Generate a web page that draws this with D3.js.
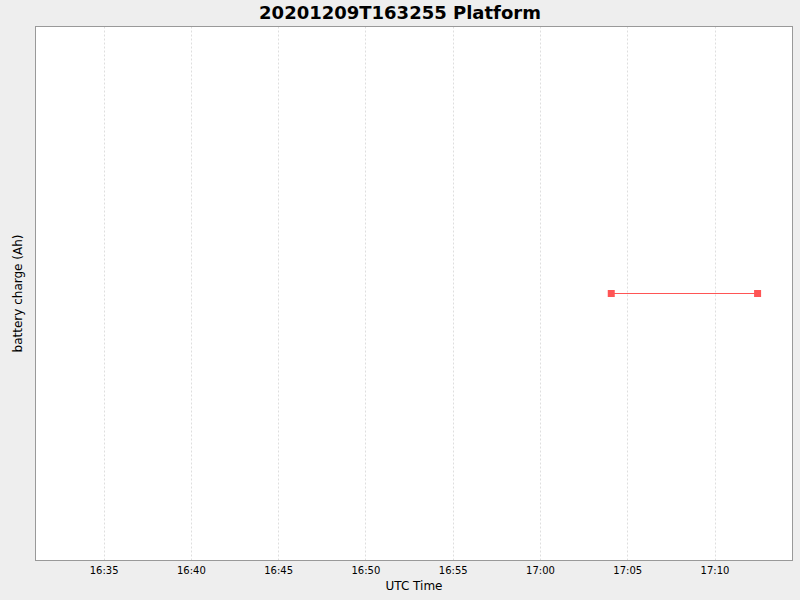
<!DOCTYPE html>
<html>
<head>
<meta charset="utf-8">
<script src="https://cdn.jsdelivr.net/npm/d3@7"></script>
<style>
  body { margin: 0; background: #eeeeee; }
  svg { display: block; font-family: "DejaVu Sans", sans-serif; }
</style>
</head>
<body>
<div id="chart"></div>
<script>
"use strict";
// data
const title = "20201209T163255 Platform";
const times = ["2020-12-09T17:04:05Z", "2020-12-09T17:12:28Z"];
const charge = [0, 0];
const xDomain = ["2020-12-09T16:31:06Z", "2020-12-09T17:14:28Z"];
const yDomain = [-1, 1];
const tickTimes = ["16:35", "16:40", "16:45", "16:50", "16:55", "17:00", "17:05", "17:10"];

const width = 800;
const height = 600;
const plot = { left: 35.5, top: 26.5, right: 792.5, bottom: 560.5 };

const svg = d3.select("#chart")
    .append("svg")
    .attr("width", width)
    .attr("height", height);

svg.append("rect")
    .attr("width", width)
    .attr("height", height)
    .attr("fill", "#eeeeee");

const xScale = d3.scaleUtc()
    .domain(xDomain.map(d => new Date(d)))
    .range([plot.left, plot.right]);
const yScale = d3.scaleLinear()
    .domain(yDomain)
    .range([plot.bottom, plot.top]);

svg.append("rect")
    .attr("x", plot.left)
    .attr("y", plot.top)
    .attr("width", plot.right - plot.left)
    .attr("height", plot.bottom - plot.top)
    .attr("fill", "#ffffff");

const ticks = tickTimes.map(t => new Date(`2020-12-09T${t}:00Z`));

// vertical dashed grid
svg.append("g")
    .selectAll("line")
    .data(ticks)
    .enter()
    .append("line")
    .attr("x1", d => Math.round(xScale(d)) + 0.5)
    .attr("x2", d => Math.round(xScale(d)) + 0.5)
    .attr("y1", plot.top)
    .attr("y2", plot.bottom)
    .attr("stroke", "#dedede")
    .attr("stroke-width", 1)
    .attr("stroke-dasharray", "2,2");

// x axis labels (no tick marks)
const xAxis = d3.axisBottom(xScale)
    .tickValues(ticks)
    .tickFormat(d3.utcFormat("%H:%M"))
    .tickSize(0)
    .tickPadding(6);
const gx = svg.append("g")
    .attr("transform", `translate(0, ${plot.bottom})`)
    .call(xAxis);
gx.select(".domain").remove();
gx.selectAll("text")
    .attr("font-family", "DejaVu Sans, sans-serif")
    .attr("font-size", 10)
    .attr("fill", "#000");

// plot border
svg.append("rect")
    .attr("x", plot.left)
    .attr("y", plot.top)
    .attr("width", plot.right - plot.left)
    .attr("height", plot.bottom - plot.top)
    .attr("fill", "none")
    .attr("stroke", "#999999");

const points = times.map((t, i) => ({ time: new Date(t), value: charge[i] }));

svg.append("path")
    .datum(points)
    .attr("fill", "none")
    .attr("stroke", "#ff5555")
    .attr("stroke-width", 1)
    .attr("d", d3.line().x(d => xScale(d.time)).y(d => yScale(d.value)));

const size = 7;
svg.append("g")
    .selectAll("rect")
    .data(points)
    .enter()
    .append("rect")
    .attr("x", d => xScale(d.time) - size / 2)
    .attr("y", d => yScale(d.value) - size / 2)
    .attr("width", size)
    .attr("height", size)
    .attr("fill", "#ff5555");

svg.append("text")
    .attr("x", width / 2)
    .attr("y", 19)
    .attr("text-anchor", "middle")
    .attr("font-size", 18)
    .attr("font-weight", "bold")
    .text(title);

svg.append("text")
    .attr("x", (plot.left + plot.right) / 2)
    .attr("y", 590)
    .attr("text-anchor", "middle")
    .attr("font-size", 12)
    .text("UTC Time");

svg.append("text")
    .attr("transform", `translate(22, ${(plot.top + plot.bottom) / 2}) rotate(-90)`)
    .attr("text-anchor", "middle")
    .attr("font-size", 12)
    .text("battery charge (Ah)");
</script>
</body>
</html>
